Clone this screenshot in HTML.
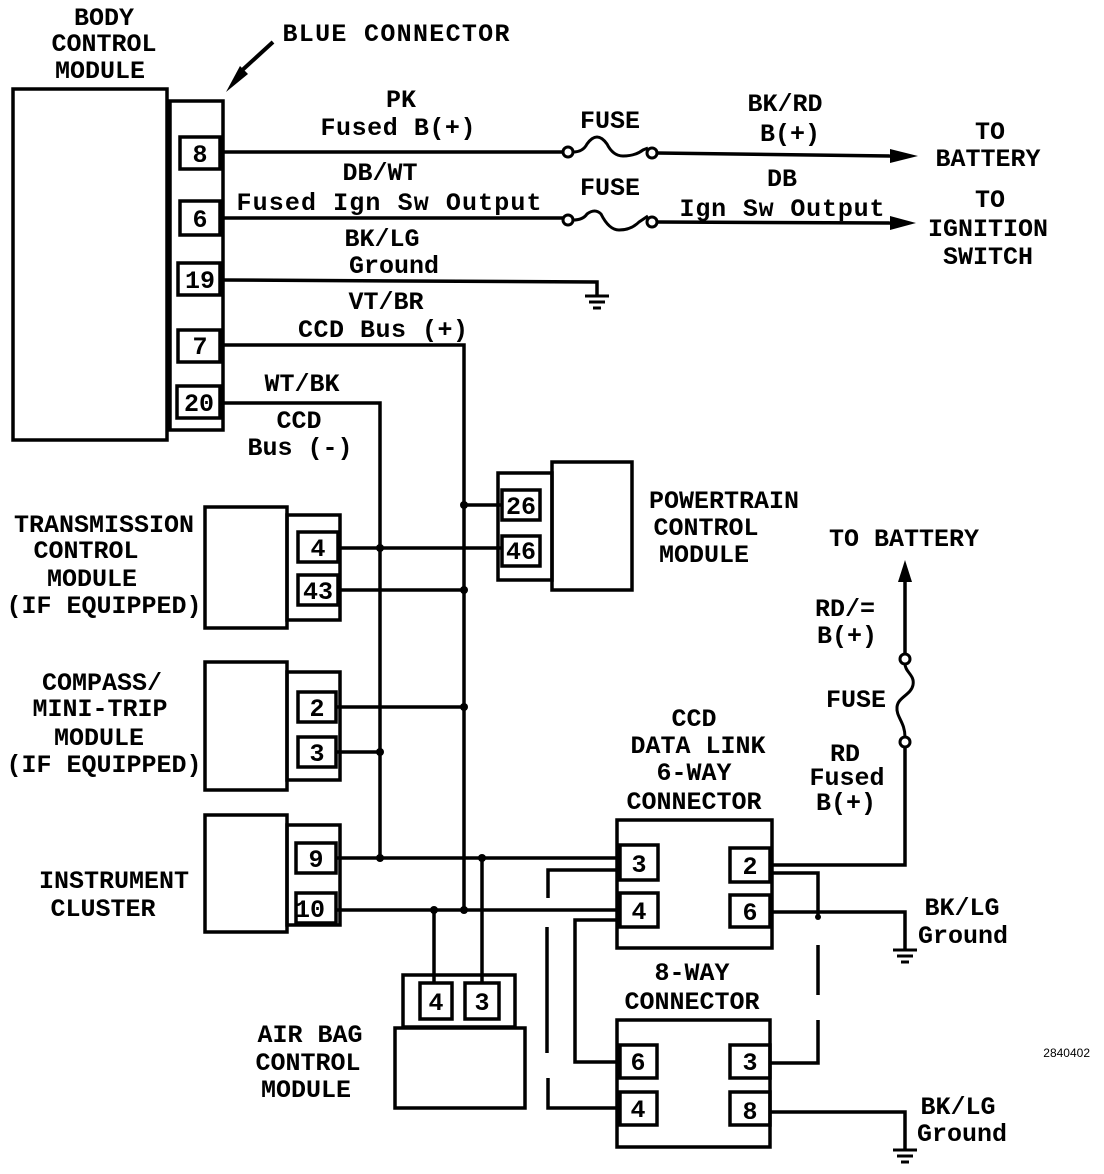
<!DOCTYPE html>
<html><head><meta charset="utf-8"><style>
html,body{margin:0;padding:0;background:#fff}
svg{display:block}
text{font-family:"Liberation Mono",monospace;font-weight:bold;font-size:25px;fill:#000}
</style></head><body>
<svg width="1104" height="1174" viewBox="0 0 1104 1174" xmlns="http://www.w3.org/2000/svg">
<g fill="none" stroke="#000" stroke-width="3.5">
<rect x="13" y="89" width="154" height="351"/>
<rect x="170" y="101" width="53" height="329"/>
<rect x="180" y="137" width="40" height="32"/>
<rect x="180" y="201" width="40" height="34"/>
<rect x="178" y="263" width="42" height="32"/>
<rect x="178" y="330" width="42" height="32"/>
<rect x="177" y="386" width="43" height="32"/>
<polyline points="223,152 563,152"/>
<path d="M573,152 q10,0 14,-8 q10,-14 20,0 q6,12 16,12 q12,0 20,-6 l5,-2" stroke-width="3"/>
<polyline points="657,153 893,156"/>
<polyline points="223,218 563,218"/>
<path d="M573,220 q10,0 14,-6 q8,-6 14,0 q8,16 18,16 q12,0 20,-8 q6,-4 9,-6" stroke-width="3"/>
<polyline points="657,222 893,223"/>
<polyline points="223,280 597,282 597,296"/>
<polyline points="223,345 464,345 464,910"/>
<polyline points="223,403 380,403 380,858"/>
<rect x="498" y="473" width="54" height="107"/>
<rect x="552" y="462" width="80" height="128"/>
<rect x="502" y="490" width="38" height="30"/>
<rect x="502" y="536" width="38" height="30"/>
<polyline points="464,505 502,505"/>
<polyline points="340,548 502,548"/>
<rect x="205" y="507" width="82" height="121"/>
<rect x="287" y="515" width="53" height="105"/>
<rect x="298" y="532" width="40" height="30"/>
<rect x="298" y="575" width="40" height="30"/>
<polyline points="340,590 464,590"/>
<rect x="205" y="662" width="82" height="128"/>
<rect x="287" y="672" width="53" height="108"/>
<rect x="298" y="692" width="38" height="30"/>
<rect x="298" y="737" width="38" height="30"/>
<polyline points="336,707 464,707"/>
<polyline points="336,752 380,752"/>
<rect x="205" y="815" width="82" height="117"/>
<rect x="287" y="825" width="53" height="100"/>
<rect x="296" y="843" width="40" height="30"/>
<rect x="296" y="893" width="40" height="30"/>
<polyline points="336,858 620,858"/>
<polyline points="336,910 620,910"/>
<rect x="403" y="975" width="112" height="52"/>
<rect x="395" y="1028" width="130" height="80"/>
<rect x="420" y="983" width="32" height="36"/>
<rect x="465" y="983" width="34" height="36"/>
<polyline points="434,910 434,983"/>
<polyline points="482,858 482,983"/>
<rect x="617" y="820" width="155" height="128"/>
<rect x="620" y="845" width="38" height="35"/>
<rect x="620" y="893" width="38" height="34"/>
<rect x="730" y="848" width="40" height="34"/>
<rect x="730" y="895" width="40" height="32"/>
<polyline points="772,865 905,865 905,747"/>
<path d="M905,664 C905,672 915,675 913,685 C911,695 898,697 897,707 C896,717 905,722 905,737" stroke-width="3"/>
<polyline points="905,654 905,578"/>
<polyline points="772,873 818,873 818,917"/>
<polyline points="772,912 905,912 905,950"/>
<rect x="617" y="1020" width="153" height="127"/>
<rect x="620" y="1045" width="37" height="33"/>
<rect x="620" y="1092" width="37" height="33"/>
<rect x="730" y="1045" width="40" height="33"/>
<rect x="730" y="1092" width="40" height="33"/>
<polyline points="548,898 548,870 620,870"/>
<polyline points="575,1003 575,920 620,920"/>
<polyline points="575,1003 575,1062 620,1062"/>
<polyline points="548,1078 548,1108 620,1108"/>
<polyline points="770,1063 818,1063 818,1020"/>
<polyline points="770,1112 905,1112 905,1150"/>
</g>
<g stroke="#000" stroke-width="3.5">
<line x1="547" y1="927" x2="547" y2="1053"/>
<line x1="818" y1="945" x2="818" y2="995"/>
</g>
<g fill="#fff" stroke="#000" stroke-width="3">
<circle cx="568" cy="152" r="5"/><circle cx="652" cy="153" r="5"/>
<circle cx="568" cy="220" r="5"/><circle cx="652" cy="222" r="5"/>
<circle cx="905" cy="659" r="5"/><circle cx="905" cy="742" r="5"/>
</g>
<g fill="#000">
<circle cx="464" cy="505" r="4"/><circle cx="380" cy="548" r="4"/><circle cx="464" cy="590" r="4"/>
<circle cx="464" cy="707" r="4"/><circle cx="380" cy="752" r="4"/>
<circle cx="380" cy="858" r="4"/><circle cx="482" cy="858" r="4"/>
<circle cx="434" cy="910" r="4"/><circle cx="464" cy="910" r="4"/><circle cx="818" cy="917" r="3"/>
<polygon points="890,149 918,156 890,163"/>
<polygon points="890,216 916,223 890,230"/>
<polygon points="898,582 905,560 912,582"/>
<polygon points="226,92 240,66 248,74"/>
</g>
<line x1="238" y1="74" x2="273" y2="42" stroke="#000" stroke-width="4"/>
<g stroke="#000" stroke-width="3">
<line x1="585" y1="296" x2="609" y2="296"/><line x1="589" y1="302" x2="605" y2="302"/><line x1="593" y1="308" x2="601" y2="308"/>
<line x1="893" y1="950" x2="917" y2="950"/><line x1="897" y1="956" x2="913" y2="956"/><line x1="901" y1="962" x2="909" y2="962"/>
<line x1="893" y1="1150" x2="917" y2="1150"/><line x1="897" y1="1156" x2="913" y2="1156"/><line x1="901" y1="1162" x2="909" y2="1162"/>
</g>
<g text-anchor="middle" font-size="23">
<text x="200" y="162">8</text><text x="200" y="227">6</text><text x="200" y="288">19</text>
<text x="200" y="354">7</text><text x="199" y="411">20</text>
<text x="521" y="514">26</text><text x="521" y="559">46</text>
<text x="318" y="556">4</text><text x="318" y="599">43</text>
<text x="317" y="716">2</text><text x="317" y="761">3</text>
<text x="316" y="867">9</text><text x="310" y="917">10</text>
<text x="436" y="1010">4</text><text x="482" y="1010">3</text>
<text x="639" y="872">3</text><text x="639" y="919">4</text>
<text x="750" y="874">2</text><text x="750" y="920">6</text>
<text x="638" y="1070">6</text><text x="638" y="1117">4</text>
<text x="750" y="1070">3</text><text x="750" y="1119">8</text>
</g>
<g text-anchor="middle">
<text x="104" y="25">BODY</text>
<text x="104" y="51">CONTROL</text>
<text x="100" y="78">MODULE</text>
<text x="396" y="41" textLength="227">BLUE CONNECTOR</text>
<text x="401" y="107">PK</text>
<text x="398" y="135" textLength="155">Fused B(+)</text>
<text x="610" y="128">FUSE</text>
<text x="785" y="111">BK/RD</text>
<text x="790" y="141">B(+)</text>
<text x="990" y="139">TO</text>
<text x="988" y="166">BATTERY</text>
<text x="380" y="180">DB/WT</text>
<text x="389" y="210" textLength="305">Fused Ign Sw Output</text>
<text x="610" y="195">FUSE</text>
<text x="782" y="186">DB</text>
<text x="782" y="216" textLength="205">Ign Sw Output</text>
<text x="990" y="207">TO</text>
<text x="988" y="236">IGNITION</text>
<text x="988" y="264">SWITCH</text>
<text x="382" y="246">BK/LG</text>
<text x="394" y="273">Ground</text>
<text x="386" y="309">VT/BR</text>
<text x="383" y="337" textLength="170">CCD Bus (+)</text>
<text x="302" y="391">WT/BK</text>
<text x="299" y="428">CCD</text>
<text x="300" y="455">Bus (-)</text>
<text x="724" y="508">POWERTRAIN</text>
<text x="706" y="535">CONTROL</text>
<text x="704" y="562">MODULE</text>
<text x="904" y="546">TO BATTERY</text>
<text x="104" y="532">TRANSMISSION</text>
<text x="86" y="558">CONTROL</text>
<text x="92" y="586">MODULE</text>
<text x="104" y="613">(IF EQUIPPED)</text>
<text x="102" y="690">COMPASS/</text>
<text x="100" y="716">MINI-TRIP</text>
<text x="99" y="745">MODULE</text>
<text x="104" y="772">(IF EQUIPPED)</text>
<text x="845" y="616">RD/=</text>
<text x="847" y="643">B(+)</text>
<text x="856" y="707">FUSE</text>
<text x="845" y="761">RD</text>
<text x="847" y="785">Fused</text>
<text x="846" y="810">B(+)</text>
<text x="694" y="726">CCD</text>
<text x="698" y="753">DATA LINK</text>
<text x="694" y="780">6-WAY</text>
<text x="694" y="809">CONNECTOR</text>
<text x="114" y="888">INSTRUMENT</text>
<text x="103" y="916">CLUSTER</text>
<text x="962" y="915">BK/LG</text>
<text x="963" y="943">Ground</text>
<text x="692" y="980">8-WAY</text>
<text x="692" y="1009">CONNECTOR</text>
<text x="310" y="1042">AIR BAG</text>
<text x="308" y="1070">CONTROL</text>
<text x="306" y="1097">MODULE</text>
<text x="958" y="1114">BK/LG</text>
<text x="962" y="1141">Ground</text>
</g>
<text x="1090" y="1057" text-anchor="end" style="font-family:'Liberation Sans',sans-serif;font-weight:normal;font-size:12px">2840402</text>
</svg>
</body></html>
